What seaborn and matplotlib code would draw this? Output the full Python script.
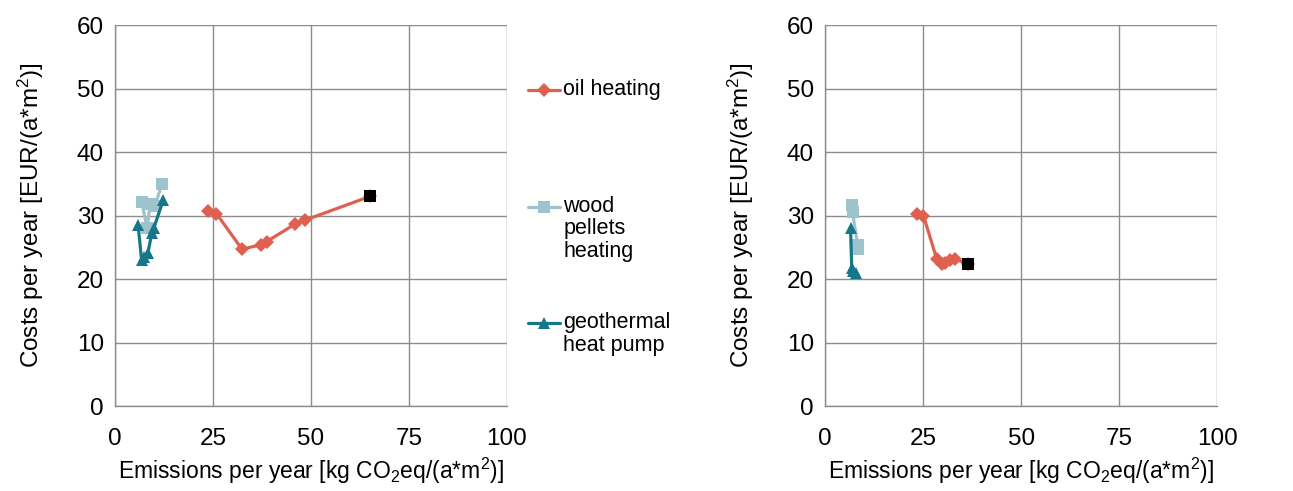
import matplotlib
matplotlib.use("Agg")
import matplotlib.pyplot as plt
import seaborn as sns
import numpy as np

# left chart (emissions, costs)
oil_x_left = [23.8, 25.9, 32.4, 37.3, 38.7, 45.8, 48.6, 65.0]
oil_y_left = [30.7, 30.3, 24.7, 25.4, 25.9, 28.6, 29.3, 33.0]
wood_x_left = [12.0, 10.2, 9.0, 8.2, 6.8]
wood_y_left = [35.0, 31.5, 31.8, 28.0, 32.2]
geo_x_left = [5.9, 6.8, 7.5, 8.4, 9.4, 9.9, 12.3]
geo_y_left = [28.5, 23.0, 23.5, 24.1, 27.2, 28.0, 32.4]
ref_x_left = [65.0]
ref_y_left = [33.0]

# right chart
oil_x_right = [23.4, 25.1, 28.5, 29.8, 30.6, 31.8, 33.2, 36.4]
oil_y_right = [30.3, 30.0, 23.1, 22.3, 22.6, 23.0, 23.2, 22.3]
wood_x_right = [6.8, 7.0, 8.3, 8.5]
wood_y_right = [31.7, 30.5, 25.4, 24.7]
geo_x_right = [6.5, 6.8, 7.2, 7.8]
geo_y_right = [28.0, 21.8, 21.3, 21.0]
ref_x_right = [36.4]
ref_y_right = [22.3]

# blank lines keep the legend handle next to the first line of each label
labels = ["\noil heating\n", "\n\nwood\npellets\nheating", "\ngeothermal\nheat pump"]
x_ticks = [0, 25, 50, 75, 100]
y_ticks = [0, 10, 20, 30, 40, 50, 60]

OIL = "#E0604F"
WOOD = "#9DC3CD"
GEO = "#17778A"
GRID = "#8C8C8C"

sns.set_style("white")
plt.rcParams["font.family"] = ["Liberation Sans", "DejaVu Sans"]
plt.rcParams["mathtext.fontset"] = "custom"
plt.rcParams["mathtext.rm"] = "Liberation Sans"
plt.rcParams["mathtext.it"] = "Liberation Sans:italic"
plt.rcParams["text.color"] = "black"
plt.rcParams["axes.labelcolor"] = "black"
plt.rcParams["xtick.color"] = "black"
plt.rcParams["ytick.color"] = "black"

fig = plt.figure(figsize=(12.93, 4.91), dpi=100)
ax1 = fig.add_axes([0.0889, 0.1731, 0.3032, 0.7759])
ax2 = fig.add_axes([0.6381, 0.1731, 0.3032, 0.7759])


def draw(ax, oil, wood, geo, ref):
    kw = dict(sort=False, estimator=None, linewidth=2.3, markeredgewidth=0, ax=ax)
    sns.lineplot(x=oil[0], y=oil[1], color=OIL, marker="D", markersize=7.5, label=labels[0], **kw)
    sns.lineplot(x=wood[0], y=wood[1], color=WOOD, marker="s", markersize=8, label=labels[1], **kw)
    sns.lineplot(x=geo[0], y=geo[1], color=GEO, marker="^", markersize=9, label=labels[2], **kw)
    sns.scatterplot(x=ref[0], y=ref[1], color="black", marker="s", s=75, linewidth=0, ax=ax, zorder=5)

    ax.set_xlim(0, 100)
    ax.set_ylim(0, 60)
    ax.set_xticks(x_ticks)
    ax.set_yticks(y_ticks)
    ax.grid(True, color=GRID, linewidth=1.0)
    ax.set_axisbelow(True)
    for s in ["top", "right"]:
        ax.spines[s].set_visible(False)
    for s in ["left", "bottom"]:
        ax.spines[s].set_color(GRID)
        ax.spines[s].set_linewidth(1.0)
    ax.tick_params(axis="both", direction="out", length=5, color=GRID, labelsize=17.5)
    ax.tick_params(axis="x", pad=11)
    ax.tick_params(axis="y", pad=3)
    ax.set_xlabel("Emissions per year [kg CO$_2$eq/(a*m$^2$)]", fontsize=16.5, labelpad=4)
    ax.set_ylabel("Costs per year [EUR/(a*m$^2$)]", fontsize=17.5, labelpad=22)


draw(ax1, (oil_x_left, oil_y_left), (wood_x_left, wood_y_left),
     (geo_x_left, geo_y_left), (ref_x_left, ref_y_left))
draw(ax2, (oil_x_right, oil_y_right), (wood_x_right, wood_y_right),
     (geo_x_right, geo_y_right), (ref_x_right, ref_y_right))

handles, labs = ax1.get_legend_handles_labels()
ax1.get_legend().remove()
ax2.get_legend().remove()
leg = fig.legend(handles, labs, loc="upper left", bbox_to_anchor=(0.4083, 0.886),
                 frameon=False, fontsize=15.5, handlelength=1.5, handletextpad=0.15,
                 labelspacing=1.25, borderpad=0, borderaxespad=0)
for t in leg.get_texts():
    t.set_linespacing(1.12)

fig.savefig("out.png", dpi=100)
